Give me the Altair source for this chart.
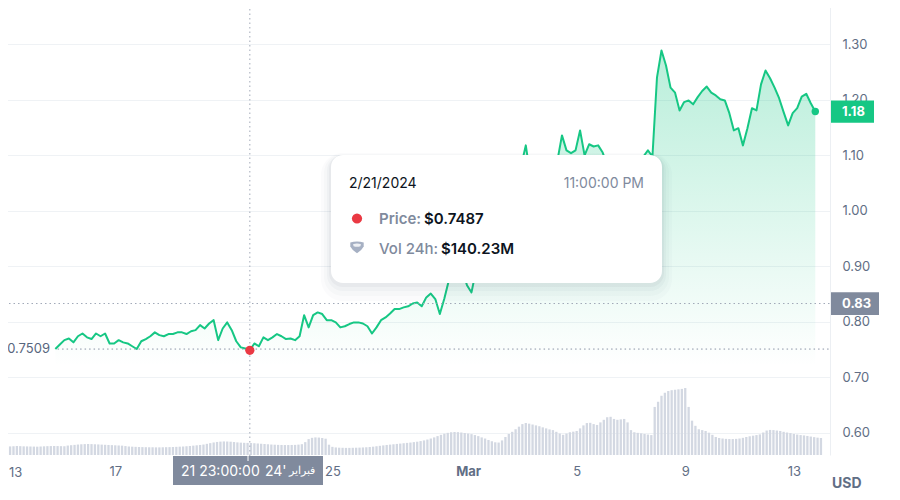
import altair as alt
import pandas as pd

# ---------------- data ----------------
PRICE_START = "2024-02-14T19:00:00"   # 4-hourly closes
price = [
    0.7509, 0.759, 0.767, 0.770, 0.763, 0.774, 0.779, 0.772, 0.769, 0.779,
    0.774, 0.779, 0.761, 0.761, 0.767, 0.763, 0.761, 0.756, 0.751, 0.765,
    0.769, 0.774, 0.781, 0.776, 0.774, 0.778, 0.778, 0.781, 0.781, 0.778,
    0.783, 0.785, 0.794, 0.788, 0.797, 0.803, 0.767, 0.788, 0.799, 0.785,
    0.765, 0.754, 0.752, 0.7487, 0.761, 0.756, 0.772, 0.767, 0.772, 0.778,
    0.774, 0.769, 0.770, 0.767, 0.774, 0.812, 0.790, 0.812, 0.817, 0.814,
    0.803, 0.803, 0.799, 0.790, 0.792, 0.796, 0.799, 0.799, 0.797, 0.792,
    0.779, 0.790, 0.803, 0.808, 0.815, 0.823, 0.823, 0.826, 0.828, 0.833,
    0.835, 0.828, 0.844, 0.851, 0.841, 0.814, 0.842, 0.875, 0.896, 0.907,
    0.893, 0.866, 0.853, 0.893, 0.938, 0.965, 0.992, 1.010, 1.019, 1.028,
    1.037, 1.046, 1.055, 1.082, 1.118, 1.064, 1.059, 1.069, 1.064, 1.073,
    1.077, 1.091, 1.136, 1.109, 1.104, 1.109, 1.145, 1.100, 1.120, 1.116,
    1.118, 1.105, 1.082, 1.069, 1.064, 1.069, 1.073, 1.077, 1.082, 1.087,
    1.098, 1.109, 1.098, 1.240, 1.289, 1.262, 1.222, 1.213, 1.181, 1.196,
    1.199, 1.192, 1.205, 1.216, 1.224, 1.213, 1.208, 1.201, 1.199, 1.176,
    1.145, 1.149, 1.118, 1.149, 1.185, 1.181, 1.228, 1.253, 1.239, 1.222,
    1.203, 1.178, 1.154, 1.176, 1.185, 1.206, 1.211, 1.194, 1.179,
]

VOL_START = "2024-02-13T00:00:00"     # 3-hourly 24h volume, $M
volume = [
    98, 100, 102, 104, 103, 101, 100, 99, 98, 97, 99, 101, 103, 104, 105, 104, 103, 102,
    110, 114, 118, 122, 125, 127, 128, 127, 125, 123, 121, 119, 117, 115, 113, 111, 109,
    104, 100, 97, 95, 93, 92, 91, 90, 90, 89, 89, 90, 91, 92, 93, 95, 97, 99, 102, 105, 109, 113, 117,
    122, 130, 138, 146, 152, 156, 158, 157, 155,
    151, 147, 144, 142, 141, 140,
    137, 134, 131, 128, 125, 122, 120, 118, 117, 116, 116, 117, 118, 121, 126,
    150, 185, 200, 205, 203, 198, 190,
    120, 95, 88, 85, 84, 83, 83, 84, 85, 86, 88, 90, 93,
    97, 102, 107, 112, 117, 121, 125, 129, 133, 137, 141, 145, 150, 155, 162, 170, 180, 192,
    205, 220, 235, 248, 258, 265, 268, 266, 262, 256, 250,
    243, 232, 220, 205, 192,
    175, 160, 148, 145,
    170, 210, 245, 270, 300, 330, 360,
    373, 365, 355, 345,
    335, 322, 310, 298, 290,
    270, 250, 235,
    250, 265, 272, 280,
    310, 345, 372, 375, 360, 350,
    380, 410, 440, 445,
    420, 410, 415, 420,
    380, 290,
    265, 258, 252, 245, 238, 232,
    560, 620, 690, 725, 745, 755, 760, 765, 770, 780,
    560, 400, 340,
    300, 290, 280, 260, 235,
    210, 198, 192, 188, 186, 186, 188, 192,
    200, 210, 218, 225, 232, 240,
    262, 285, 292, 290, 285, 280,
    270, 262, 255, 245, 238, 232,
    228, 222, 215, 208, 202, 198,
]

y_ticks = [0.60, 0.70, 0.80, 0.90, 1.00, 1.10, 1.20, 1.30]
x_tick_days = [(2, 17), (2, 21), (2, 25), (3, 1), (3, 5), (3, 9), (3, 13)]
first_tick_label = "13"   # Feb 13, at the very left edge

open_price = 0.7509
hover_time = (2, 21, 23)
hover_price = 0.7487
hover_volume = "$140.23M"
last_price = 1.179
cursor_price = 0.833

GREEN = "#16c784"
RED = "#ea3943"
GREY_TXT = "#616e85"
SLATE = "#808a9d"
FONT = "Inter"

# ---------------- tables ----------------
price_df = pd.DataFrame({
    "t": pd.date_range(PRICE_START, periods=len(price), freq="4h").strftime("%Y-%m-%dT%H:%M:%S"),
    "p": price,
})
vol_df = pd.DataFrame({
    "t": pd.date_range(VOL_START, periods=len(volume), freq="3h").strftime("%Y-%m-%dT%H:%M:%S"),
    "v": volume,
})
one = alt.Data(values=[{}])

W, H = 830, 455

x_scale = alt.Scale(domain=[
    alt.DateTime(year=2024, month=2, date=12, hours=22, minutes=30),
    alt.DateTime(year=2024, month=3, date=14, hours=3, minutes=35),
])
y_scale = alt.Scale(domain=[0.56, 1.38], zero=False, nice=False)

x_axis = alt.Axis(
    values=[alt.DateTime(year=2024, month=m, date=d) for m, d in x_tick_days],
    # the "21" label sits under the crosshair time tag in the reference
    labelExpr="date(datum.value) == 1 ? 'Mar' : (month(datum.value) == 1 && date(datum.value) == 21 ? '' : '' + date(datum.value))",
    labelFontWeight={"condition": {"test": "date(datum.value) == 1", "value": "bold"}, "value": "normal"},
    ticks=False, domain=False, grid=False, labelPadding=10, labelFontSize=13,
    labelColor=GREY_TXT, labelFont=FONT, labelFlush=False, labelOverlap=False, title=None,
)
y_axis = alt.Axis(
    orient="right", values=y_ticks, format=".2f", ticks=False, domain=True,
    domainColor="#eceff3", labelPadding=12, labelColor=GREY_TXT, labelFontSize=13,
    labelFont=FONT, grid=True, gridColor="#eff2f5", title=None,
)

X = alt.X("t:T", scale=x_scale, axis=x_axis)

# ---------------- volume ----------------
vol_layer = alt.Chart(vol_df).mark_bar(width=2.3, color="#d3d8e2").encode(
    x=X,
    y=alt.Y("v:Q", scale=alt.Scale(domain=[0, 5300]), axis=None),
)

# ---------------- price ----------------
grad = alt.Gradient(
    gradient="linear",
    stops=[alt.GradientStop(color="rgba(22,199,132,0.30)", offset=0),
           alt.GradientStop(color="rgba(22,199,132,0)", offset=1)],
    x1=1, x2=1, y1=0, y2=1,
)
area = alt.Chart(price_df).mark_area(color=grad).encode(
    x=X, y=alt.Y("p:Q", scale=y_scale, axis=y_axis), y2=alt.datum(0.72),
)
line = alt.Chart(price_df).mark_line(color=GREEN, strokeWidth=2, strokeJoin="round").encode(
    x=X, y=alt.Y("p:Q", scale=y_scale, axis=y_axis),
)

first_label = alt.Chart(one).mark_text(
    text=first_tick_label, align="left", baseline="middle", fontSize=13, font=FONT, color=GREY_TXT
).encode(x=alt.value(9), y=alt.value(473))

open_rule = alt.Chart(one).mark_rule(color="#8b94a6", strokeDash=[1.5, 3], strokeWidth=1).encode(
    x=alt.datum(alt.DateTime(year=2024, month=2, date=14, hours=21)), x2=alt.value(W),
    y=alt.datum(open_price),
)
open_label = alt.Chart(one).mark_text(
    text=f"{open_price}", align="right", baseline="middle", fontSize=13, font=FONT, color="#58667e"
).encode(x=alt.value(50), y=alt.datum(open_price))

cross_h = alt.Chart(one).mark_rule(color="#a1a9b8", strokeDash=[1.5, 3], strokeWidth=1).encode(
    x=alt.value(0), x2=alt.value(W), y=alt.datum(cursor_price),
)
hover_dt = alt.DateTime(year=2024, month=hover_time[0], date=hover_time[1], hours=hover_time[2])
cross_v = alt.Chart(one).mark_rule(color="#a1a9b8", strokeDash=[1.5, 3], strokeWidth=1).encode(
    x=alt.datum(hover_dt), y=alt.value(0), y2=alt.value(H + 3),
)
hover_dot = alt.Chart(one).mark_point(filled=True, color=RED, size=85, opacity=1).encode(
    x=alt.datum(hover_dt), y=alt.datum(hover_price),
)
end_dot = alt.Chart(one).mark_point(filled=True, color=GREEN, size=55, opacity=1).encode(
    x=alt.datum(alt.DateTime(year=2024, month=3, date=13, hours=19)), y=alt.datum(last_price),
)

# right-hand price tags
tag_last = alt.Chart(one).mark_rect(color=GREEN).encode(
    x=alt.value(831), x2=alt.value(874), y=alt.datum(last_price + 0.02), y2=alt.datum(last_price - 0.02),
)
tag_last_t = alt.Chart(one).mark_text(
    text="1.18", align="left", baseline="middle", fontSize=13, fontWeight="bold", font=FONT, color="white"
).encode(x=alt.value(842), y=alt.datum(last_price))
tag_cur = alt.Chart(one).mark_rect(color=SLATE).encode(
    x=alt.value(831), x2=alt.value(879), y=alt.datum(cursor_price + 0.0205), y2=alt.datum(cursor_price - 0.0205),
)
tag_cur_t = alt.Chart(one).mark_text(
    text="0.83", align="left", baseline="middle", fontSize=13, fontWeight="bold", font=FONT, color="white"
).encode(x=alt.value(842), y=alt.datum(cursor_price))
usd = alt.Chart(one).mark_text(
    text="USD", align="left", baseline="middle", fontSize=14, fontWeight="bold", font=FONT, color=GREY_TXT
).encode(x=alt.value(832), y=alt.value(484))

# bottom time tag
time_box = alt.Chart(one).mark_rect(color=SLATE).encode(
    x=alt.value(173), x2=alt.value(323), y=alt.value(456), y2=alt.value(485),
)
time_tick = alt.Chart(one).mark_rule(color="white", strokeWidth=1).encode(
    x=alt.value(248), y=alt.value(456), y2=alt.value(461),
)
time_t1 = alt.Chart(one).mark_text(
    text="21 23:00:00", align="left", baseline="middle", fontSize=14, font=FONT, color="white"
).encode(x=alt.value(181), y=alt.value(472))
time_t2 = alt.Chart(one).mark_text(
    text="24'", align="left", baseline="middle", fontSize=14, font=FONT, color="white"
).encode(x=alt.value(265), y=alt.value(472))
time_t3 = alt.Chart(one).mark_text(
    text="فبراير", align="left", baseline="middle", fontSize=11, color="white"
).encode(x=alt.value(289), y=alt.value(471))

# tooltip card
TX0, TX1, TY0, TY1 = 331, 662, 155, 283
shadows = []
for grow, drop, op in [(10, 8, 0.018), (7, 6, 0.025), (4, 4, 0.035), (2, 2, 0.045)]:
    shadows.append(alt.Chart(one).mark_rect(color="#3c4a64", opacity=op, cornerRadius=12 + grow).encode(
        x=alt.value(TX0 - grow), x2=alt.value(TX1 + grow),
        y=alt.value(TY0 - grow + drop), y2=alt.value(TY1 + grow + drop),
    ))
card = alt.Chart(one).mark_rect(color="white", cornerRadius=12).encode(
    x=alt.value(TX0), x2=alt.value(TX1), y=alt.value(TY0), y2=alt.value(TY1),
)
t_date = alt.Chart(one).mark_text(
    text="2/21/2024", align="left", baseline="middle", fontSize=14, font=FONT, color="#0d1421"
).encode(x=alt.value(349), y=alt.value(184))
t_time = alt.Chart(one).mark_text(
    text="11:00:00 PM", align="right", baseline="middle", fontSize=14, font=FONT, color=SLATE
).encode(x=alt.value(644), y=alt.value(184))
t_dot = alt.Chart(one).mark_point(filled=True, color=RED, size=105, opacity=1).encode(
    x=alt.value(357), y=alt.value(218.5),
)
t_plab = alt.Chart(one).mark_text(
    text="Price:", align="left", baseline="middle", fontSize=15, fontWeight=600, font=FONT, color=SLATE
).encode(x=alt.value(379), y=alt.value(219))
t_pval = alt.Chart(one).mark_text(
    text=f"${hover_price}", align="left", baseline="middle", fontSize=15, fontWeight=600, font=FONT, color="#0d1421"
).encode(x=alt.value(424), y=alt.value(219))
shield = alt.Chart(one).mark_point(
    filled=True, color="#a6b0c3", size=180, opacity=1,
    shape="M -1 -0.75 Q 0 -1.05 1 -0.75 L 1 -0.15 Q 0.7 0.45 0 0.85 Q -0.7 0.45 -1 -0.15 Z",
).encode(x=alt.value(357), y=alt.value(247.5))
shield_in = alt.Chart(one).mark_point(
    filled=True, color="#eef0f4", size=180, opacity=1,
    shape="M -0.6 -0.5 Q 0 -0.7 0.6 -0.5 L 0.5 -0.2 Q 0 -0.05 -0.5 -0.2 Z",
).encode(x=alt.value(357), y=alt.value(247.5))
t_vlab = alt.Chart(one).mark_text(
    text="Vol 24h:", align="left", baseline="middle", fontSize=15, fontWeight=500, font=FONT, color=SLATE
).encode(x=alt.value(379), y=alt.value(249))
t_vval = alt.Chart(one).mark_text(
    text=hover_volume, align="left", baseline="middle", fontSize=15, fontWeight=600, font=FONT, color="#0d1421"
).encode(x=alt.value(441), y=alt.value(249))

price_group = alt.layer(
    area, line, first_label, open_rule, open_label, cross_h, cross_v, hover_dot, end_dot,
    tag_last, tag_last_t, tag_cur, tag_cur_t, usd,
    time_box, time_tick, time_t1, time_t2, time_t3,
    *shadows, card, t_date, t_time, t_dot, t_plab, t_pval, shield, shield_in, t_vlab, t_vval,
)

chart = alt.layer(vol_layer, price_group).resolve_scale(y="independent").properties(
    width=W, height=H,
    autosize=alt.AutoSizeParams(type="none"),
    padding={"left": -8, "top": -8, "right": 58, "bottom": 35},
    background="white",
).configure_view(strokeWidth=0)

chart.save("out.html", embed_options={"renderer": "svg", "actions": False})
